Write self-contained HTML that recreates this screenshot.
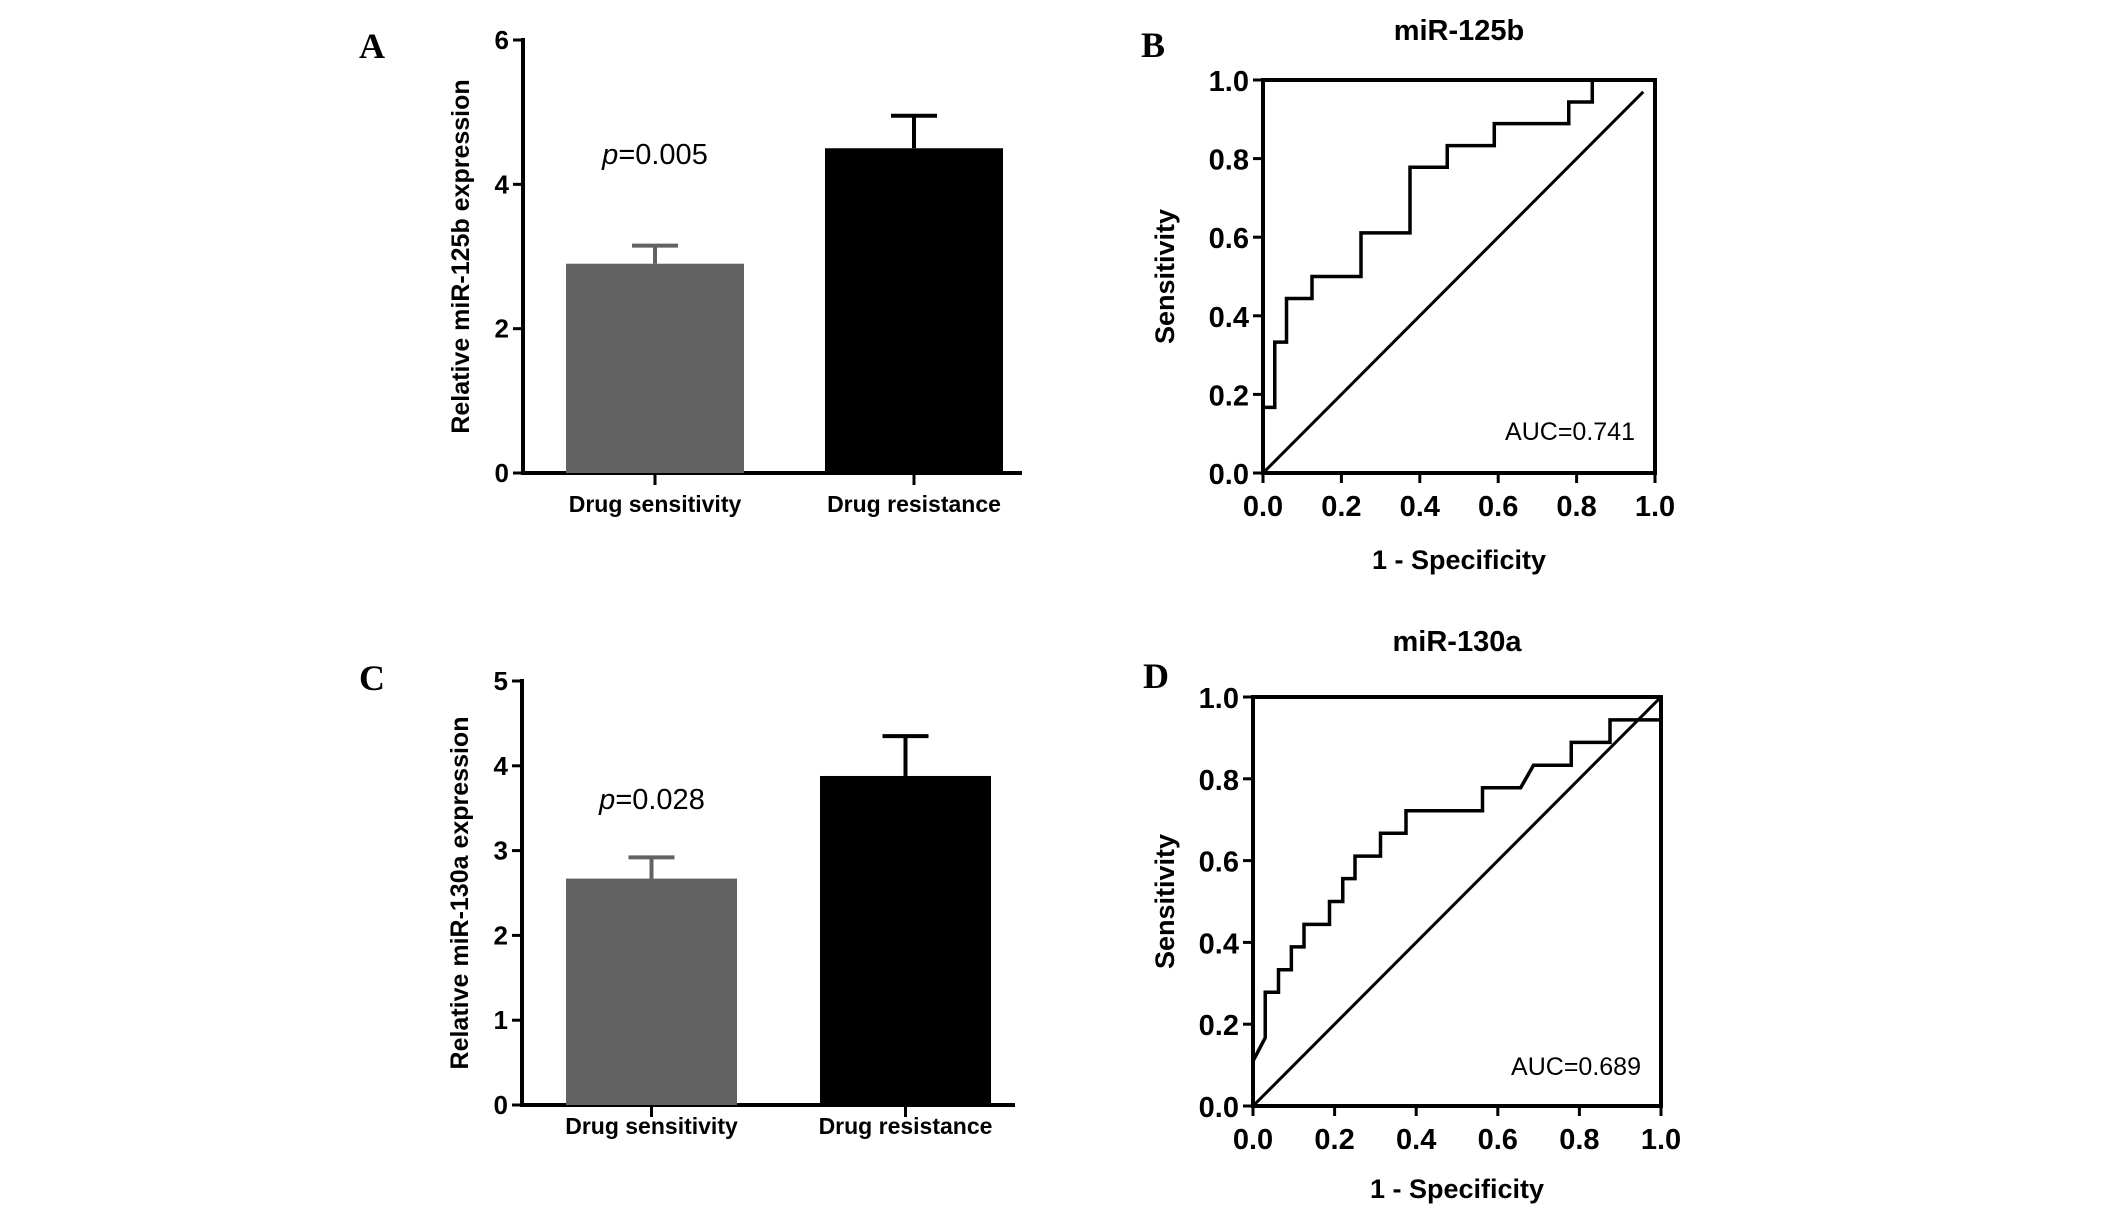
<!DOCTYPE html>
<html><head><meta charset="utf-8"><style>
body{margin:0;background:#fff;}
svg{display:block;font-family:"Liberation Sans",Arial,sans-serif;}
</style></head><body>
<svg id="s" width="2126" height="1205" viewBox="0 0 2126 1205"></svg>
<script>
const NS='http://www.w3.org/2000/svg';
const svg=document.getElementById('s');
// ---- data ----
const barCats=['Drug sensitivity','Drug resistance'];
const barA=[2.9,4.5];
const errA=[3.15,4.95];
const barC=[2.67,3.88];
const errC=[2.92,4.35];
const barColors=['#626262','#000000'];
const ticksA=[0,2,4,6];
const ticksC=[0,1,2,3,4,5];
const rocTicks=[0,0.2,0.4,0.6,0.8,1.0];
const rocBx=[0,0,0.03,0.03,0.06,0.06,0.125,0.125,0.25,0.25,0.375,0.375,0.47,0.47,0.59,0.59,0.78,0.78,0.84,0.84];
const rocBy=[0,0.167,0.167,0.333,0.333,0.444,0.444,0.5,0.5,0.611,0.611,0.778,0.778,0.833,0.833,0.889,0.889,0.944,0.944,1.0];
const refB=[0,0.97];
const rocDx=[0,0.03,0.03,0.0625,0.0625,0.094,0.094,0.125,0.125,0.1875,0.1875,0.22,0.22,0.25,0.25,0.3125,0.3125,0.375,0.375,0.5625,0.5625,0.656,0.6875,0.78,0.78,0.875,0.875,1.0];
const rocDy=[0.11,0.167,0.278,0.278,0.333,0.333,0.389,0.389,0.444,0.444,0.5,0.5,0.556,0.556,0.611,0.611,0.667,0.667,0.722,0.722,0.778,0.778,0.833,0.833,0.889,0.889,0.944,0.944];
const refD=[0,1];

function el(t,a,txt){const e=document.createElementNS(NS,t);for(const k in a)e.setAttribute(k,a[k]);if(txt!==undefined)e.textContent=txt;svg.appendChild(e);return e;}
function line(x1,y1,x2,y2,w,name){const e=el('line',{x1,y1,x2,y2,stroke:'#000','stroke-width':w});

return e;}
function text(x,y,s,size,name,extra){const a=Object.assign({x,y,'font-size':size,'text-anchor':'middle'},extra||{});const e=el('text',a,s);

return e;}

function barPanel(p){
  const yv=v=>p.y0-(v/p.max)*(p.y0-p.yTop);
  line(p.ax,p.yTop-2,p.ax,p.y0+2,4,'y-axis');
  line(p.ax-2,p.y0,p.xEnd,p.y0,4,'x-axis');
  p.ticks.forEach(t=>{line(p.ax-10,yv(t),p.ax,yv(t),3,'y-tick');
    text(p.ax-14,yv(t)+9,String(t),26,'y-tick-label',{'text-anchor':'end','font-weight':'bold'});});
  p.vals.forEach((v,i)=>{
    const x0=p.bx[i],w=p.bw,c=x0+w/2;
    const r=el('rect',{x:x0,y:yv(v),width:w,height:p.y0-yv(v),fill:barColors[i]});
    
    
    const col=i?'#000':'#626262';
    const e1=el('line',{x1:c,y1:yv(v),x2:c,y2:yv(p.err[i]),stroke:col,'stroke-width':4});
    
    
    const e2=el('line',{x1:c-23,y1:yv(p.err[i]),x2:c+23,y2:yv(p.err[i]),stroke:col,'stroke-width':4});
    
    
    line(c,p.y0,c,p.y0+12,3,'x-tick');
    text(c,p.labY,barCats[i],23,'category-label',{'font-weight':'bold'});
  });
  text(0,0,p.ylab,25,'y-axis-title',{'font-weight':'bold',transform:`translate(${p.ylx},${(p.yTop+p.y0)/2}) rotate(-90)`});
  const pt=el('text',{x:p.px,y:p.py,'font-size':29,'text-anchor':'middle'});
  
  
  pt.innerHTML='<tspan font-style="italic">p</tspan>='+p.pv;
  text(p.lx,p.ly,p.letter,36,'panel-letter',{'font-family':'Liberation Serif,serif','font-weight':'bold'});
}
barPanel({ax:523,yTop:40,y0:473,max:6,xEnd:1022,ticks:ticksA,vals:barA,err:errA,bx:[566,825],bw:178,labY:512,
 ylab:'Relative miR-125b expression',ylx:469,px:655,py:164,pv:'0.005',lx:372,ly:58,letter:'A'});
barPanel({ax:522,yTop:681,y0:1105,max:5,xEnd:1015,ticks:ticksC,vals:barC,err:errC,bx:[566,820],bw:171,labY:1134,
 ylab:'Relative miR-130a expression',ylx:468,px:652,py:809,pv:'0.028',lx:372,ly:690,letter:'C'});

function rocPanel(p){
  const X=v=>p.x0+v*(p.x1-p.x0), Y=v=>p.y0-v*(p.y0-p.y1);
  const f=el('rect',{x:p.x0,y:p.y1,width:p.x1-p.x0,height:p.y0-p.y1,fill:'none',stroke:'#000','stroke-width':4});
  
  
  rocTicks.forEach(t=>{
    line(p.x0-10,Y(t),p.x0,Y(t),3,'y-tick');
    text(p.x0-14,Y(t)+11,t.toFixed(1),29,'y-tick-label',{'text-anchor':'end','font-weight':'bold'});
    line(X(t),p.y0,X(t),p.y0+10,3,'x-tick');
    text(X(t),p.y0+43,t.toFixed(1),29,'x-tick-label',{'font-weight':'bold'});
  });
  const ref=el('line',{x1:X(p.ref[0]),y1:Y(p.ref[0]),x2:X(p.ref[1]),y2:Y(p.ref[1]),stroke:'#000','stroke-width':3});
  
  
  const pts=p.xs.map((v,i)=>X(v)+','+Y(p.ys[i])).join(' ');
  const pl=el('polyline',{points:pts,fill:'none',stroke:'#000','stroke-width':3.5});
  
  
  text((p.x0+p.x1)/2,p.ty,p.title,29,'chart-title',{'font-weight':'bold'});
  text((p.x0+p.x1)/2,p.y0+p.xtOff,'1 - Specificity',27,'x-axis-title',{'font-weight':'bold'});
  text(0,0,'Sensitivity',27,'y-axis-title',{'font-weight':'bold',transform:`translate(1174,${(p.y0+p.y1)/2}) rotate(-90)`});
  text(p.x1-20,p.ay,p.auc,25,'auc-label',{'text-anchor':'end'});
  text(p.lx,p.ly,p.letter,36,'panel-letter',{'font-family':'Liberation Serif,serif','font-weight':'bold'});
}
rocPanel({x0:1263,x1:1655,y0:473,y1:80,xs:rocBx,ys:rocBy,ref:refB,title:'miR-125b',ty:40,auc:'AUC=0.741',ay:440,lx:1153,ly:57,letter:'B',xtOff:96});
rocPanel({x0:1253,x1:1661,y0:1106,y1:697,xs:rocDx,ys:rocDy,ref:refD,title:'miR-130a',ty:651,auc:'AUC=0.689',ay:1075,lx:1156,ly:688,letter:'D',xtOff:92});
</script>
</body></html>
